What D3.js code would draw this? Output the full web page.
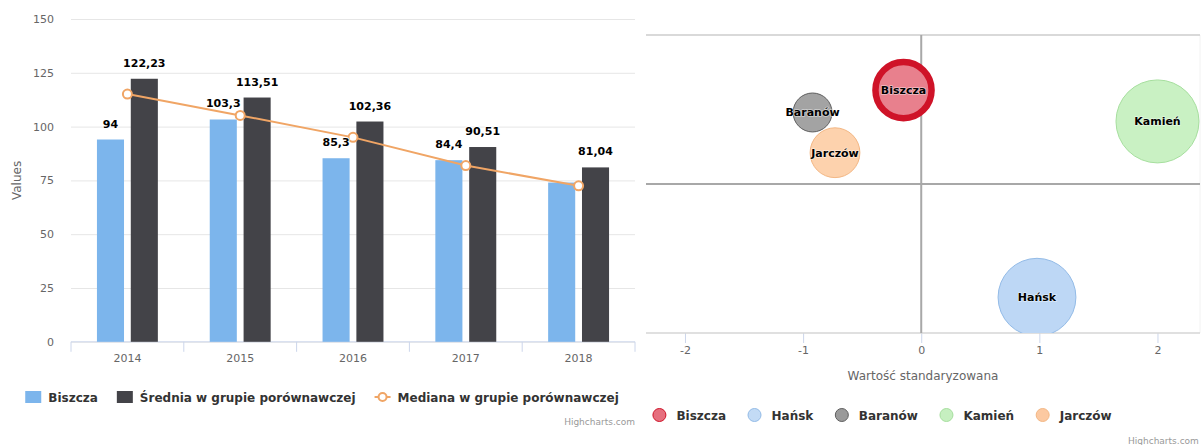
<!DOCTYPE html>
<html>
<head>
<meta charset="utf-8">
<script src="https://cdn.jsdelivr.net/npm/d3@7"></script>
<style>
  body { margin: 0; background: #fff; }
  svg { display: block; font-family: "DejaVu Sans", sans-serif; }
</style>
</head>
<body>
<svg id="chart" width="1203" height="445"></svg>
<script>
// left chart data
const years = ["2014", "2015", "2016", "2017", "2018"];
const biszcza = [94, 103.3, 85.3, 84.4, 74];
const biszczaLabelShown = [true, true, true, true, false];
const srednia = [122.23, 113.51, 102.36, 90.51, 81.04];
const mediana = [115.1, 105.2, 95.0, 81.9, 72.5];
const valueTicks = [0, 25, 50, 75, 100, 125, 150];
const barSeries = ["Biszcza", "Średnia w grupie porównawczej"];
const lineSeries = "Mediana w grupie porównawczej";

// right chart data
const bubbleNames = ["Biszcza", "Hańsk", "Baranów", "Kamień", "Jarczów"];
const bubbleX = [-0.15, 0.98, -0.92, 2.0, -0.73];
const bubbleY = [0.63, -0.76, 0.48, 0.42, 0.21];
const bubbleZ = [56, 88, 22, 100, 36];
const stdTicks = [-2, -1, 0, 1, 2];

const barColors = ["#7cb5ec", "#434348"];
const lineColor = "#f0a565";
const bubbleFill = ["#e8808d", "#bdd7f5", "#a3a3a3", "#c9f1c3", "#fdd2ad"];
const bubbleStroke = ["#cf1328", "#93bbe7", "#5f5f5f", "#a6df9e", "#f3b784"];
const legendFill = ["#e66f7e", "#c3dbf5", "#9a9a9a", "#c6efc0", "#fcc9a1"];

const fmt = v => String(v).replace(".", ",");
const svg = d3.select("#chart");

// ---------- left: columns + median line ----------
const L = { left: 71, right: 635, top: 19, bottom: 341.8 };
const y = d3.scaleLinear().domain([0, 150]).range([L.bottom, L.top]);
const x0 = d3.scaleBand().domain(years).range([L.left, L.right]);
const bw = x0.bandwidth();
const x1 = d3.scaleBand().domain(barSeries)
  .range([0.2 * bw, 0.8 * bw]).paddingInner(0.2).paddingOuter(0.1);

const gy = svg.append("g")
  .attr("transform", `translate(${L.left},0)`)
  .call(d3.axisLeft(y).tickValues(valueTicks).tickSize(-(L.right - L.left)).tickPadding(17));
gy.select(".domain").remove();
gy.selectAll(".tick line").attr("stroke", "#e6e6e6");
gy.selectAll(".tick text").attr("fill", "#666").style("font-size", "11px")
  .style("font-family", "DejaVu Sans");

svg.append("text")
  .attr("transform", `translate(21,${(L.top + L.bottom) / 2}) rotate(-90)`)
  .attr("text-anchor", "middle").attr("fill", "#666").style("font-size", "12px")
  .text("Values");

const gx = svg.append("g")
  .attr("transform", `translate(0,${L.bottom})`)
  .call(d3.axisBottom(x0).tickSize(0).tickPadding(12));
gx.select(".domain").remove();
gx.selectAll(".tick text").attr("fill", "#666").style("font-size", "11px")
  .style("font-family", "DejaVu Sans");
gx.append("line").attr("x1", L.left).attr("x2", L.right).attr("stroke", "#ccd6eb");
gx.selectAll("line.cat")
  .data(years.map(d => x0(d)).concat([L.right]))
  .join("line").attr("class", "cat")
  .attr("x1", d => d).attr("x2", d => d).attr("y1", 0).attr("y2", 10)
  .attr("stroke", "#ccd6eb");

const barData = [biszcza, srednia];
barData.forEach((vals, si) => {
  svg.append("g").selectAll("rect")
    .data(vals)
    .join("rect")
    .attr("x", (d, i) => x0(years[i]) + x1(barSeries[si]))
    .attr("y", d => y(d))
    .attr("width", x1.bandwidth())
    .attr("height", d => y(0) - y(d))
    .attr("fill", barColors[si]);
});

const line = d3.line()
  .x((d, i) => x0(years[i]) + bw / 2)
  .y(d => y(d));
svg.append("path").datum(mediana)
  .attr("d", line).attr("fill", "none")
  .attr("stroke", lineColor).attr("stroke-width", 2);
svg.append("g").selectAll("circle")
  .data(mediana).join("circle")
  .attr("cx", (d, i) => x0(years[i]) + bw / 2)
  .attr("cy", d => y(d)).attr("r", 4.5)
  .attr("fill", "#fff").attr("stroke", lineColor).attr("stroke-width", 2);

const labelLayer = svg.append("g")
  .style("font-size", "11px").style("font-weight", "bold")
  .attr("text-anchor", "middle");
barData.forEach((vals, si) => {
  labelLayer.selectAll(null)
    .data(vals.map((v, i) => ({ v, i })).filter(d => si === 1 || biszczaLabelShown[d.i]))
    .join("text")
    .attr("x", d => x0(years[d.i]) + x1(barSeries[si]) + x1.bandwidth() / 2)
    .attr("y", d => y(d.v) - 12)
    .attr("fill", "#000").attr("stroke", "#fff").attr("stroke-width", 2)
    .attr("stroke-linejoin", "round").style("paint-order", "stroke")
    .text(d => fmt(d.v));
});

// legends laid out left to right, centred on centerX
function flowLegend(items, centerX, cy, drawSymbol, symW, gap) {
  const g = svg.append("g").style("font-size", "12px").style("font-weight", "bold");
  let x = 0;
  items.forEach((name, i) => {
    const it = g.append("g");
    drawSymbol(it, i, cy);
    const t = it.append("text").attr("x", symW).attr("y", cy + 4.5)
      .attr("fill", "#333").text(name);
    const w = t.node().getComputedTextLength();
    it.attr("transform", `translate(${x},0)`);
    x += symW + w + gap;
  });
  const total = x - gap;
  g.attr("transform", `translate(${centerX - total / 2},0)`);
}

flowLegend(barSeries.concat([lineSeries]), 322, 397, (it, i, cy) => {
  if (i < 2) {
    it.append("rect").attr("x", 0).attr("y", cy - 6).attr("width", 16).attr("height", 12)
      .attr("fill", barColors[i]);
  } else {
    it.append("line").attr("x1", 0).attr("x2", 16).attr("y1", cy).attr("y2", cy)
      .attr("stroke", lineColor).attr("stroke-width", 2);
    it.append("circle").attr("cx", 8).attr("cy", cy).attr("r", 4)
      .attr("fill", "#fff").attr("stroke", lineColor).attr("stroke-width", 2);
  }
}, 23, 19);

svg.append("text").attr("x", L.right).attr("y", 425).attr("text-anchor", "end")
  .attr("fill", "#999").style("font-size", "9px").text("Highcharts.com");

// ---------- right: bubbles ----------
const P = { left: 646, right: 1200, top: 35, bottom: 333 };
const xs = d3.scaleLinear().domain([-2.33, 2.36]).range([P.left, P.right]);
const ys = d3.scaleLinear().domain([-1, 1]).range([P.bottom, P.top]);
const rs = d3.scaleSqrt().domain([0, d3.max(bubbleZ)]).range([0, 41.5]);

svg.append("line").attr("x1", P.right).attr("x2", P.right).attr("y1", P.top).attr("y2", P.bottom)
  .attr("stroke", "#f2f2f2");
svg.append("line").attr("x1", P.left).attr("x2", P.right).attr("y1", ys(1)).attr("y2", ys(1))
  .attr("stroke", "#cccccc").attr("stroke-width", 1.5);

const gx2 = svg.append("g")
  .attr("transform", `translate(0,${P.bottom})`)
  .call(d3.axisBottom(xs).tickValues(stdTicks).tickSize(10).tickPadding(3).tickFormat(d => String(d)));
gx2.select(".domain").remove();
gx2.append("line").attr("x1", P.left).attr("x2", P.right).attr("stroke", "#d6d6d6").attr("stroke-width", 1.5);
gx2.selectAll(".tick line").attr("stroke", "#ccd6eb");
gx2.selectAll(".tick text").attr("fill", "#666").style("font-size", "11px")
  .style("font-family", "DejaVu Sans");

svg.append("text").attr("x", (P.left + P.right) / 2).attr("y", 380)
  .attr("text-anchor", "middle").attr("fill", "#666").style("font-size", "12px")
  .text("Wartość standaryzowana");

svg.append("line").attr("x1", P.left).attr("x2", P.right).attr("y1", ys(0)).attr("y2", ys(0))
  .attr("stroke", "#a8a8a8").attr("stroke-width", 2);
svg.append("line").attr("x1", xs(0)).attr("x2", xs(0)).attr("y1", P.top).attr("y2", P.bottom)
  .attr("stroke", "#a8a8a8").attr("stroke-width", 2);

svg.append("clipPath").attr("id", "plot2")
  .append("rect").attr("x", P.left).attr("y", P.top)
  .attr("width", P.right - P.left).attr("height", P.bottom - P.top);

const bubbles = svg.append("g").attr("clip-path", "url(#plot2)");
bubbles.selectAll("circle")
  .data(bubbleNames.map((n, i) => i))
  .join("circle")
  .attr("cx", i => xs(bubbleX[i]))
  .attr("cy", i => ys(bubbleY[i]))
  .attr("r", i => i === 0 ? rs(bubbleZ[i]) - 3 : rs(bubbleZ[i]))
  .attr("fill", i => bubbleFill[i])
  .attr("stroke", i => bubbleStroke[i])
  .attr("stroke-width", i => i === 0 ? 6.5 : 1);
bubbles.selectAll("text")
  .data(bubbleNames.map((n, i) => i))
  .join("text")
  .attr("x", i => xs(bubbleX[i]))
  .attr("y", i => ys(bubbleY[i]) + 4)
  .attr("text-anchor", "middle")
  .style("font-size", "11px").style("font-weight", "bold")
  .attr("fill", "#000").attr("stroke", "rgba(255,255,255,0.5)").attr("stroke-width", 1.5)
  .attr("stroke-linejoin", "round").style("paint-order", "stroke")
  .text(i => bubbleNames[i]);

flowLegend(bubbleNames, 882, 415, (it, i, cy) => {
  it.append("circle").attr("cx", 7).attr("cy", cy).attr("r", 6.5)
    .attr("fill", legendFill[i]).attr("stroke", bubbleStroke[i]).attr("stroke-width", 1);
}, 24, 21.5);

svg.append("text").attr("x", 1128).attr("y", 444)
  .attr("fill", "#999").style("font-size", "9px").text("Highcharts.com");
</script>
</body>
</html>
